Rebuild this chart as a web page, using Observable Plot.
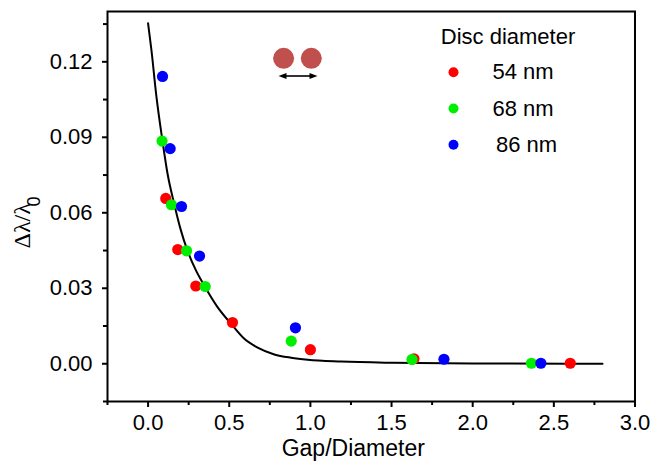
<!DOCTYPE html>
<html><head><meta charset="utf-8">
<script src="https://cdn.jsdelivr.net/npm/d3@7"></script>
<script src="https://cdn.jsdelivr.net/npm/@observablehq/plot@0.6"></script>
<style>html,body{margin:0;padding:0;background:#fff}</style>
</head><body><div id="chart"></div>
<script>
// ---- data ----
const seriesNames = ["54 nm", "68 nm", "86 nm"];
const seriesColors = ["#ff0000", "#00ee00", "#0000ff"];

const gap54 = [0.109, 0.183, 0.294, 0.520, 1.000, 1.638, 2.601];
const shift54 = [0.0657, 0.0454, 0.0309, 0.0164, 0.0056, 0.0020, 0.0002];

const gap68 = [0.086, 0.144, 0.237, 0.352, 0.882, 1.626, 2.362];
const shift68 = [0.0885, 0.0632, 0.0449, 0.0307, 0.0090, 0.0017, 0.0002];

const gap86 = [0.089, 0.136, 0.206, 0.317, 0.908, 1.823, 2.420];
const shift86 = [0.1142, 0.0855, 0.0625, 0.0428, 0.0143, 0.0018, 0.0002];

// fitted decay curve
const fitGap = [0, 0.021, 0.05, 0.089, 0.12, 0.16, 0.2, 0.243, 0.295, 0.346, 0.428, 0.511, 0.593, 0.675, 0.778, 0.881, 0.984, 1.19, 1.5, 2.0, 2.8];
const fitShift = [0.1353, 0.1245, 0.107, 0.0885, 0.0755, 0.0638, 0.0535, 0.0449, 0.0371, 0.0311, 0.0225, 0.0159, 0.0099, 0.0064, 0.0037, 0.0024, 0.0016, 0.0009, 0.0004, 0.0001, 0];

const xTicks = [0, 0.5, 1, 1.5, 2, 2.5, 3];
const xMinorTicks = [-0.25, 0.25, 0.75, 1.25, 1.75, 2.25, 2.75];
const yTicks = [0, 0.03, 0.06, 0.09, 0.12];
const yMinorTicks = [-0.015, 0.015, 0.045, 0.075, 0.105, 0.135];

const xLabel = "Gap/Diameter";
const yLabelMain = "Δλ/λ";
const yLabelSub = "0";
const legendTitle = "Disc diameter";

// ---- build tables ----
const seriesGaps = [gap54, gap68, gap86];
const seriesShifts = [shift54, shift68, shift86];
const points = seriesNames.flatMap((name, s) =>
  seriesGaps[s].map((g, i) => ({series: name, gap: g, shift: seriesShifts[s][i]})));
const fit = fitGap.map((g, i) => ({gap: g, shift: fitShift[i]}));

// decorative icon: two discs with a double-headed arrow
function discIcon(index, scales, values, dimensions) {
  const {marginLeft: L, marginTop: T} = dimensions;
  const g = d3.create("svg:g");
  const cy = T + 47.3;
  for (const cx of [L + 176.6, L + 204.3]) {
    g.append("circle").attr("cx", cx).attr("cy", cy).attr("r", 10.5).attr("fill", "#c0504d");
  }
  const ay = T + 65, ax1 = L + 171.5, ax2 = L + 210.5;
  g.append("line").attr("x1", ax1 + 5).attr("x2", ax2 - 5).attr("y1", ay).attr("y2", ay)
    .attr("stroke", "black").attr("stroke-width", 1.6);
  g.append("path").attr("d", `M${ax1},${ay}L${ax1 + 8},${ay - 3}L${ax1 + 8},${ay + 3}Z`).attr("fill", "black");
  g.append("path").attr("d", `M${ax2},${ay}L${ax2 - 8},${ay - 3}L${ax2 - 8},${ay + 3}Z`).attr("fill", "black");
  return g.node();
}

const legendMarks = seriesNames.flatMap((name, i) => [
  Plot.dot([name], {frameAnchor: "top-left", dx: 346, dy: 60.7 + 36.3 * i, r: 5, fill: seriesColors[i]}),
  Plot.text([name], {frameAnchor: "top-left", dx: i === 2 ? 388.5 : 385, dy: 60.7 + 36.3 * i,
    text: d => d, textAnchor: "start", lineAnchor: "middle", fontSize: 22})
]);

const chart = Plot.plot({
  width: 652,
  height: 461,
  marginLeft: 107,
  marginRight: 17.5,
  marginTop: 11,
  marginBottom: 60,
  style: {fontFamily: "'Liberation Sans', Arial, sans-serif", fontSize: "22px", background: "white", color: "black"},
  x: {domain: [-0.25, 3]},
  y: {domain: [-0.015, 0.14]},
  color: {domain: seriesNames, range: seriesColors},
  marks: [
    Plot.axisX(xTicks, {tickSize: 6, tickPadding: 7, strokeWidth: 2, tickFormat: d3.format(".1f"), fontSize: 22, label: null}),
    Plot.axisX(xMinorTicks, {tickSize: 4, strokeWidth: 2, fill: "none", tickFormat: () => "", label: null}),
    Plot.axisY(yTicks, {tickSize: 5, tickPadding: 10, strokeWidth: 2, tickFormat: d3.format(".2f"), fontSize: 22, label: null}),
    Plot.axisY(yMinorTicks, {tickSize: 4, strokeWidth: 2, fill: "none", tickFormat: () => "", label: null}),
    Plot.line(fit, {x: "gap", y: "shift", stroke: "black", strokeWidth: 2, curve: "monotone-x"}),
    Plot.dot(points, {x: "gap", y: "shift", fill: "series", r: 5.6}),
    Plot.frame({stroke: "black", strokeWidth: 2}),
    discIcon,
    Plot.text([legendTitle], {frameAnchor: "top-left", dx: 333.3, dy: 17, text: d => d, textAnchor: "start", lineAnchor: "top", fontSize: 22}),
    ...legendMarks,
    Plot.text([xLabel], {frameAnchor: "bottom", dx: -18, dy: 38, text: d => d, lineAnchor: "top", fontSize: 23}),
    Plot.text([yLabelMain], {frameAnchor: "left", dx: -95, dy: 42, rotate: -90, text: d => d, textAnchor: "start", lineAnchor: "top", fontSize: 24, fontFamily: "'Liberation Serif', 'Times New Roman', serif"}),
    Plot.text([yLabelSub], {frameAnchor: "left", dx: -80.3, dy: 0, rotate: -90, text: d => d, textAnchor: "start", lineAnchor: "top", fontSize: 18})
  ]
});
document.getElementById("chart").appendChild(chart);
</script>
</body></html>
